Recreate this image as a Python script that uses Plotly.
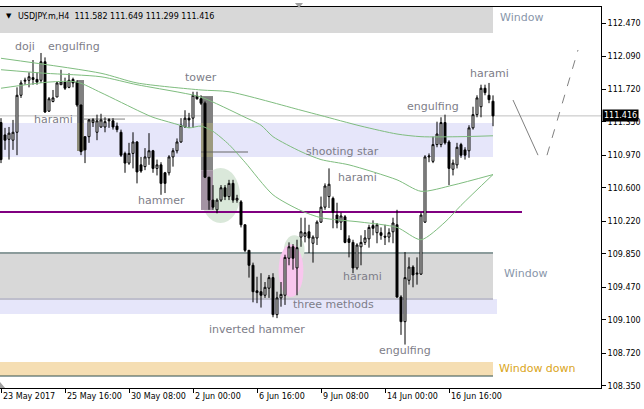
import plotly.graph_objects as go

# ---------------- data ----------------
bar_index = list(range(124))
opens = [111.34,111.20,111.15,111.14,111.23,111.65,111.81,111.82,111.85,111.83,
         111.82,112.03,111.47,111.58,111.63,111.77,111.80,111.74,111.83,111.80,
         111.54,111.18,111.18,111.34,111.23,111.29,111.29,111.36,111.36,111.30,
         111.23,110.99,110.88,110.99,111.12,110.86,110.84,110.94,111.02,110.82,
         110.86,110.77,110.77,110.95,111.02,111.12,111.29,111.39,111.39,111.64,
         111.61,111.56,110.72,110.46,110.35,110.46,110.60,110.50,110.65,110.46,
         110.44,110.18,109.89,109.72,109.43,109.42,109.38,109.46,109.58,109.16,
         109.35,109.38,109.80,109.93,109.69,110.04,110.05,110.10,109.97,110.03,
         110.21,110.38,110.50,110.48,110.29,110.21,110.27,110.02,109.98,109.69,
         109.93,109.98,110.02,110.17,110.09,110.09,110.05,110.04,110.10,110.18,
         109.36,109.08,109.55,109.70,109.62,109.62,110.21,110.95,110.90,111.09,
         111.09,111.34,111.12,110.81,110.86,111.09,111.03,111.02,111.28,111.43,
         111.52,111.73,111.65,111.582]
highs = [111.39,111.28,111.29,111.37,111.74,111.82,111.85,111.91,112.05,111.91,
         112.13,112.08,111.63,111.71,111.80,111.94,111.85,111.90,111.85,111.82,
         111.54,111.18,111.38,111.39,111.43,111.44,111.40,111.39,111.39,111.34,
         111.26,111.01,111.11,111.23,111.13,110.95,111.05,111.22,111.03,110.92,
         110.89,110.78,110.97,111.05,111.16,111.39,111.48,111.45,111.69,111.69,
         111.65,111.58,110.72,110.63,110.48,110.63,110.63,110.69,110.69,110.52,
         110.46,110.18,109.89,109.75,109.59,109.63,109.53,109.61,109.63,109.42,
         109.53,109.84,109.98,109.96,110.01,110.26,110.26,110.18,110.06,110.23,
         110.50,110.65,110.82,110.50,110.43,110.32,110.29,110.06,110.01,109.97,
         110.06,110.12,110.18,110.23,110.20,110.15,110.18,110.14,110.26,110.35,
         109.38,109.87,109.81,109.72,109.81,110.32,110.97,110.99,111.18,111.35,
         111.40,111.43,111.14,110.92,111.11,111.11,111.06,111.31,111.52,111.65,
         111.77,111.77,111.79,111.649]
lows = [110.88,111.03,110.92,111.03,110.97,111.62,111.77,111.74,111.77,111.77,
        111.79,111.45,111.46,111.57,111.63,111.77,111.71,111.73,111.74,111.52,
        110.97,110.88,111.11,111.29,111.14,111.28,111.23,111.28,111.26,111.23,
        110.95,110.77,110.86,110.82,110.65,110.77,110.80,110.86,110.77,110.74,
        110.52,110.54,110.74,110.84,110.99,111.11,111.28,111.28,111.28,111.60,
        111.54,110.71,110.35,110.35,110.31,110.44,110.46,110.46,110.43,110.43,
        110.15,109.87,109.58,109.30,109.29,109.24,109.35,109.35,109.13,109.12,
        109.25,109.27,109.72,109.67,109.38,109.93,109.98,109.86,109.75,109.95,
        110.20,110.35,110.37,110.14,110.14,110.12,109.97,109.81,109.63,109.67,
        109.72,109.95,109.92,110.06,109.97,110.01,109.95,109.98,109.97,109.35,
        108.93,108.82,109.50,109.47,109.50,109.61,110.20,110.89,110.88,111.06,
        111.06,111.09,110.63,110.74,110.82,110.94,110.92,110.94,111.26,111.40,
        111.40,111.65,111.56,111.299]
closes = [110.92,111.14,111.22,111.23,111.65,111.79,111.82,111.86,111.83,111.80,
          112.03,111.46,111.61,111.62,111.79,111.80,111.73,111.82,111.79,111.54,
          111.01,111.03,111.37,111.37,111.36,111.37,111.35,111.37,111.29,111.26,
          110.97,110.88,110.99,111.12,110.78,110.79,110.95,111.02,110.82,110.86,
          110.65,110.65,110.95,111.02,111.12,111.31,111.39,111.37,111.65,111.61,
          111.56,110.72,110.46,110.38,110.46,110.60,110.50,110.65,110.46,110.48,
          110.18,109.89,109.72,109.42,109.41,109.38,109.47,109.58,109.16,109.35,
          109.39,109.81,109.93,109.80,109.92,110.10,110.09,110.03,110.04,110.21,
          110.38,110.62,110.64,110.32,110.20,110.28,109.98,109.98,109.69,109.95,
          109.98,110.03,110.15,110.14,110.18,110.06,110.04,110.09,110.20,109.36,
          109.08,109.58,109.70,109.61,109.63,110.29,110.95,110.96,111.09,111.21,
          111.34,111.11,110.82,110.88,111.06,110.97,110.97,111.28,111.43,111.62,
          111.73,111.68,111.60,111.416]

ma_slow_idx = [0, 25, 34, 50, 57, 75, 80, 90, 99, 105, 115, 123]
ma_slow = [112.07, 111.90, 111.79, 111.71, 111.69, 111.48, 111.42, 111.30, 111.21, 111.18, 111.18, 111.19]
ma_mid_idx = [0, 11, 25, 34, 45, 50, 61, 65, 68, 75, 80, 87, 99, 105, 113, 123]
ma_mid = [111.94, 111.90, 111.86, 111.77, 111.68, 111.63, 111.40, 111.31, 111.18, 111.01, 110.92, 110.86, 110.69, 110.56, 110.63, 110.75]
ma_fast_idx = [0, 12, 19, 25, 35, 38, 44, 47, 50, 53, 57, 61, 68, 75, 80, 90, 99, 105, 111, 115, 123]
ma_fast = [111.73, 111.80, 111.80, 111.68, 111.46, 111.40, 111.32, 111.28, 111.30, 111.24, 111.09, 110.89, 110.52, 110.34, 110.26, 110.21, 110.15, 110.01, 110.21, 110.40, 110.75]

xtick_idx = [0, 16, 32, 48, 64, 80, 96, 112]
xtick_labels = ["23 May 2017", "25 May 16:00", "30 May 08:00", "2 Jun 00:00",
                "6 Jun 16:00", "9 Jun 08:00", "14 Jun 00:00", "16 Jun 16:00"]
ytick_vals = [112.47, 112.09, 111.72, 111.35, 110.97, 110.60, 110.22, 109.85, 109.47, 109.10, 108.72, 108.35]

pattern_labels = ["doji", "engulfing", "tower", "harami", "hammer", "shooting star", "harami",
                  "harami", "three methods", "inverted hammer", "engulfing", "engulfing", "harami"]
pattern_x = [6, 18.25, 50, 13, 40, 85.25, 89, 90.25, 83, 64, 101, 108, 122]
pattern_y = [112.20, 112.20, 111.85, 111.37, 110.46, 111.01, 110.72, 109.59, 109.28, 108.99, 108.75, 111.52, 111.90]

window_labels = ["Window", "Window", "Window down"]
window_x = [124.25, 125.25, 124.0]
window_y = [112.53, 109.63, 108.55]
window_colors = ["#8896AA", "#8896AA", "#DAA520"]

symbol = "USDJPY.m,H4"
last_ohlc = [111.582, 111.649, 111.299, 111.416]
last_price = 111.416
support_level = 110.325

# ---------------- figure ----------------
FONT = "DejaVu Sans"
GREEN = "#7fbd7f"
fig = go.Figure()

for xs, ys in [(ma_slow_idx, ma_slow), (ma_mid_idx, ma_mid), (ma_fast_idx, ma_fast)]:
    fig.add_trace(go.Scatter(x=xs, y=ys, mode="lines", hoverinfo="skip",
                             line=dict(color=GREEN, width=1, shape="spline", smoothing=0.7)))

fig.add_trace(go.Candlestick(
    x=bar_index, open=opens, high=highs, low=lows, close=closes,
    increasing=dict(line=dict(color="black", width=1), fillcolor="white"),
    decreasing=dict(line=dict(color="black", width=1), fillcolor="black"),
    whiskerwidth=0))

shapes = []
def rect(x0, x1, y0, y1, color, layer="below"):
    shapes.append(dict(type="rect", xref="x", yref="y", x0=x0, x1=x1, y0=y0, y1=y1,
                       fillcolor=color, line=dict(width=0), layer=layer))
def hline(x0, x1, y, color, width=1, dash="solid"):
    shapes.append(dict(type="line", xref="x", yref="y", x0=x0, x1=x1, y0=y, y1=y,
                       line=dict(color=color, width=width, dash=dash), layer="below"))

rect(-1, 123, 112.356, 112.70, "#D8D8D8")
rect(-1, 123, 110.949, 111.335, "#E6E6FA")
rect(-1, 123, 109.338, 109.860, "#D8D8D8")
rect(-1, 124, 109.167, 109.338, "#E6E6FA")
hline(-1, 123, 109.338, "#BEBECC", 2)
hline(-1, 123, 109.860, "#2F4F4F", 1)
rect(-1, 123, 108.463, 108.622, "#F5DEB3")
hline(-1, 123, 108.463, "#2F4F4F", 1)

# engulfing marker
rect(19.0, 20.75, 111.335, 111.823, "#808080")
rect(19.0, 20.75, 111.017, 111.335, "#8F8D7A")
# green ellipse near tower
shapes.append(dict(type="circle", xref="x", yref="y", x0=50, x1=59.75, y0=110.20, y1=110.824,
                   fillcolor="#DAE8DA", line=dict(width=0), layer="below"))
# tower marker
rect(50, 53, 111.335, 111.641, "#808080")
rect(50, 53, 110.949, 111.335, "#9C9A7E")
rect(50, 53, 110.80, 110.949, "#868686")
rect(50, 53, 110.348, 110.80, "#A393A3")
# ellipses near three methods
shapes.append(dict(type="circle", xref="x", yref="y", x0=70.75, x1=75.9, y0=109.74, y1=110.06,
                   fillcolor="#DAE8DA", line=dict(width=0), layer="below"))
shapes.append(dict(type="circle", xref="x", yref="y", x0=69.4, x1=75.6, y0=109.36, y1=109.96,
                   fillcolor="#F9C6EE", line=dict(width=0), layer="below"))

hline(19.75, 31, 111.38, "#808080")
hline(50, 61.75, 111.006, "#666666")
hline(-1, 130.25, support_level, "#800080", 2)
shapes.append(dict(type="line", xref="paper", yref="y", x0=0, x1=1, y0=last_price, y1=last_price,
                   line=dict(color="#C0C0C0", width=1), layer="below"))
# projection lines
shapes.append(dict(type="line", xref="x", yref="y", x0=128, y0=111.596, x1=134.25, y1=110.97,
                   line=dict(color="#808080", width=1)))
shapes.append(dict(type="line", xref="x", yref="y", x0=136.5, y0=110.97, x1=144.25, y1=112.164,
                   line=dict(color="#808080", width=1, dash="dash")))
# small chart-shift / scroll markers
shapes.append(dict(type="path", xref="paper", yref="paper",
                   path="M 0.4908 1.0105 L 0.5042 1.0105 L 0.4975 0.9975 Z",
                   fillcolor="#A0A0A0", line=dict(width=0)))
shapes.append(dict(type="path", xref="paper", yref="paper",
                   path="M 0 0.0158 L 0 0 L 0.0085 0 Z",
                   fillcolor="#A0A0A0", line=dict(width=0)))

ann = []
for t, x, y in zip(pattern_labels, pattern_x, pattern_y):
    ann.append(dict(text=t, x=x, y=y, xref="x", yref="y", showarrow=False,
                    font=dict(family=FONT, size=11, color="#7d7d88")))
for t, x, y, c in zip(window_labels, window_x, window_y, window_colors):
    ann.append(dict(text=t, x=x, y=y, xref="x", yref="y", showarrow=False, xanchor="left",
                    font=dict(family=FONT, size=11, color=c)))
for i, t in zip(xtick_idx, xtick_labels):
    ann.append(dict(text=t, x=i + 0.1, y=0, xref="x", yref="paper", yanchor="top", xanchor="left",
                    yshift=-2, showarrow=False, font=dict(family=FONT, size=8, color="black")))
ann.append(dict(text="▼", x=4 / 601, y=(388 - 10) / 381, xref="paper", yref="paper",
                xanchor="left", showarrow=False, font=dict(family=FONT, size=7, color="black")))
ann.append(dict(text=symbol + "  " + " ".join(f"{v:.3f}" for v in last_ohlc),
                x=16 / 601, y=(388 - 10) / 381, xref="paper", yref="paper", xanchor="left",
                showarrow=False, font=dict(family=FONT, size=8, color="black")))
ann.append(dict(text=f"{last_price:.3f}", x=1.0, y=last_price, xref="paper", yref="y",
                xanchor="left", xshift=1, showarrow=False, bgcolor="black", borderpad=1,
                font=dict(family=FONT, size=8, color="white")))

fig.update_layout(
    width=644, height=409, margin=dict(l=0, r=43, t=7, b=21),
    paper_bgcolor="white", plot_bgcolor="white", showlegend=False,
    shapes=shapes, annotations=ann,
    xaxis=dict(range=[-0.25, 150], rangeslider=dict(visible=False), showgrid=False, zeroline=False,
               tickvals=xtick_idx, showticklabels=False, ticks="outside", ticklen=4,
               tickcolor="black", showline=True, linecolor="black", linewidth=1, mirror=True),
    yaxis=dict(range=[108.327, 112.652], side="right", showgrid=False, zeroline=False,
               tickvals=ytick_vals, ticktext=[f"{v:.3f}" for v in ytick_vals],
               ticks="outside", ticklen=4, tickcolor="black", automargin=False,
               tickfont=dict(family=FONT, size=8, color="black"),
               showline=True, linecolor="black", linewidth=1, mirror=True),
)

fig.write_html("out.html", config={"displayModeBar": False},
               post_script="document.body.style.margin='0';document.body.style.padding='0';")
